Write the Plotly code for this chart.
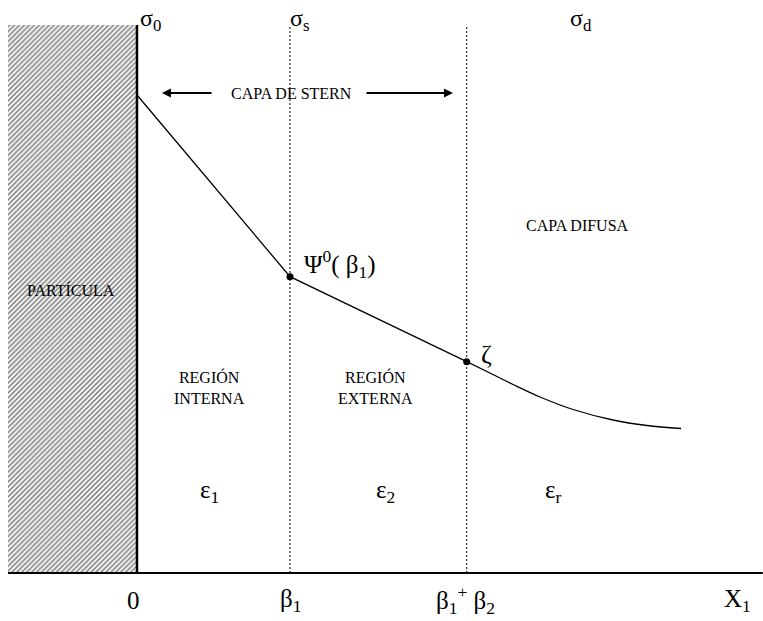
import plotly.graph_objects as go

# Geometry of the double layer (schematic units: wall at 0, beta1 = 1)
X_WALL = 0.0
X_BETA1 = 1.0
X_BETA12 = 2.155
X_LEFT = -0.843
X_RIGHT = 4.09
Y_TOP = 5.48

# Potential profile: linear through the Stern layer
stern_x = [0.0, 1.0, 2.155]
stern_y = [4.78, 2.963, 2.113]

# Potential profile: diffuse layer decay
diffuse_x = [2.155, 2.307, 2.458, 2.634, 2.850, 3.111, 3.333, 3.556]
diffuse_y = [2.113, 2.000, 1.885, 1.760, 1.635, 1.530, 1.475, 1.445]

# Marked points: Psi0(beta1) and zeta
point_x = [1.0, 2.155]
point_y = [2.963, 2.113]

# Axis tick labels along the bottom
tick_x = [-0.02, 1.0, 2.144, 3.928]
tick_text = ["0", "β<sub>1</sub>", "β<sub>1</sub><sup>+</sup> β<sub>2</sub>", "X<sub>1</sub>"]

FONT = "Liberation Serif"

fig = go.Figure()

# Hatched particle
fig.add_trace(go.Scatter(
    x=[X_LEFT, X_WALL, X_WALL, X_LEFT, X_LEFT],
    y=[0, 0, Y_TOP, Y_TOP, 0],
    mode="lines", fill="toself", line=dict(width=0),
    fillcolor="white",
    fillpattern=dict(shape="/", size=3.5, solidity=0.5, fgcolor="#111111", bgcolor="white"),
    hoverinfo="skip", showlegend=False,
))

# Particle surface
fig.add_trace(go.Scatter(x=[X_WALL, X_WALL], y=[0, Y_TOP], mode="lines",
                         line=dict(color="black", width=2.5), showlegend=False, hoverinfo="skip"))

# Dotted boundaries at beta1 and beta1+beta2
for xb in (X_BETA1, X_BETA12):
    fig.add_trace(go.Scatter(x=[xb, xb], y=[0, Y_TOP], mode="lines",
                             line=dict(color="black", width=1, dash="2px,2px"),
                             showlegend=False, hoverinfo="skip"))

# Horizontal axis
fig.add_trace(go.Scatter(x=[X_LEFT, X_RIGHT], y=[0, 0], mode="lines",
                         line=dict(color="black", width=2), showlegend=False, hoverinfo="skip"))

# Potential curve
fig.add_trace(go.Scatter(x=stern_x, y=stern_y, mode="lines",
                         line=dict(color="black", width=1.3), showlegend=False))
fig.add_trace(go.Scatter(x=diffuse_x, y=diffuse_y, mode="lines",
                         line=dict(color="black", width=1.3, shape="spline", smoothing=1),
                         showlegend=False))
fig.add_trace(go.Scatter(x=point_x, y=point_y, mode="markers",
                         marker=dict(color="black", size=7), showlegend=False))

ann = []

def txt(x, y, s, size=16, xanchor="center"):
    ann.append(dict(x=x, y=y, text=s, showarrow=False, xanchor=xanchor, yanchor="middle",
                    font=dict(family=FONT, size=size, color="black")))

# Surface charge labels
txt(0.006, 5.53, "σ<sub>0</sub>", 24, "left")
txt(0.987, 5.53, "σ<sub>s</sub>", 24, "left")
txt(2.817, 5.53, "σ<sub>d</sub>", 24, "left")

# Region labels
txt(1.013, 4.80, "CAPA DE STERN", 16)
txt(2.876, 3.48, "CAPA DIFUSA", 16)
txt(-0.431, 2.83, "PARTÍCULA", 16)
txt(0.477, 1.86, "REGIÓN<br>INTERNA", 16)
txt(1.562, 1.86, "REGIÓN<br>EXTERNA", 16)

# Potential labels
txt(1.078, 3.09, "Ψ<sup>0</sup>( β<sub>1</sub>)", 25, "left")
txt(2.235, 2.19, "ζ", 26, "left")

# Permittivities
txt(0.477, 0.82, "ε<sub>1</sub>", 25)
txt(1.627, 0.82, "ε<sub>2</sub>", 25)
txt(2.72, 0.82, "ε<sub>r</sub>", 25)

# Bottom tick labels
for xt, t in zip(tick_x, tick_text):
    txt(xt, -0.27, t, 25)

# Stern layer arrows
arrow = dict(showarrow=True, arrowhead=2, arrowsize=1, arrowwidth=1.8, arrowcolor="black",
             axref="x", ayref="y", text="")
ann.append(dict(x=0.163, y=4.80, ax=0.497, ay=4.80, **arrow))
ann.append(dict(x=2.065, y=4.80, ax=1.49, ay=4.80, **arrow))

fig.update_layout(
    width=763, height=621,
    margin=dict(l=0, r=0, t=0, b=0),
    paper_bgcolor="white", plot_bgcolor="white",
    xaxis=dict(range=[-0.8954, 4.0915], visible=False, fixedrange=True),
    yaxis=dict(range=[-0.48, 5.73], visible=False, fixedrange=True),
    annotations=ann,
    showlegend=False,
)

fig.write_html("out.html")
